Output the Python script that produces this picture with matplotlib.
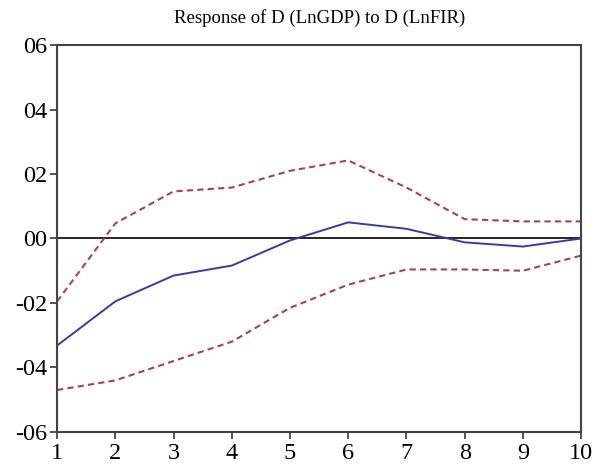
import matplotlib
matplotlib.use("Agg")
import matplotlib.pyplot as plt

periods = [1, 2, 3, 4, 5, 6, 7, 8, 9, 10]
response = [-0.0332, -0.0195, -0.0115, -0.0084, -0.0006, 0.0050, 0.0030, -0.0012, -0.0025, 0.0000]
upper = [-0.0195, 0.0047, 0.0146, 0.0158, 0.0210, 0.0242, 0.0158, 0.0060, 0.0053, 0.0053]
lower = [-0.0470, -0.0440, -0.0380, -0.0320, -0.0215, -0.0143, -0.0096, -0.0096, -0.0100, -0.0053]
yticks = [-0.06, -0.04, -0.02, 0.0, 0.02, 0.04, 0.06]
ytick_labels = ["-06", "-04", "-02", "00", "02", "04", "06"]

plt.rcParams['font.family'] = ['Liberation Serif', 'DejaVu Serif']

fig = plt.figure(figsize=(6.01, 4.69), dpi=100)
ax = fig.add_axes([0.095, 0.079, 0.872, 0.825])

ax.axhline(0, color='black', lw=1.2, zorder=1)
ax.plot(periods, upper, color='#a8424e', lw=1.5, ls=(0, (3, 2)))
ax.plot(periods, lower, color='#a8424e', lw=1.5, ls=(0, (3, 2)))
ax.plot(periods, response, color='#3a3aa2', lw=1.4)

ax.set_xlim(1, 10)
ax.set_ylim(-0.06, 0.06)
ax.set_xticks(periods)
ax.set_yticks(yticks)
ax.set_yticklabels(ytick_labels)
ax.tick_params(axis='both', labelsize=17.5, direction='out', length=5, width=1.3, color='#444444')
ax.tick_params(axis='x', pad=3)
ax.tick_params(axis='y', pad=2)
for s in ax.spines.values():
    s.set_color('#444444')
    s.set_linewidth(1.5)

ax.set_title("Response of D (LnGDP) to D (LnFIR)", fontsize=13.5, pad=16)

fig.savefig("out.png", dpi=100)
